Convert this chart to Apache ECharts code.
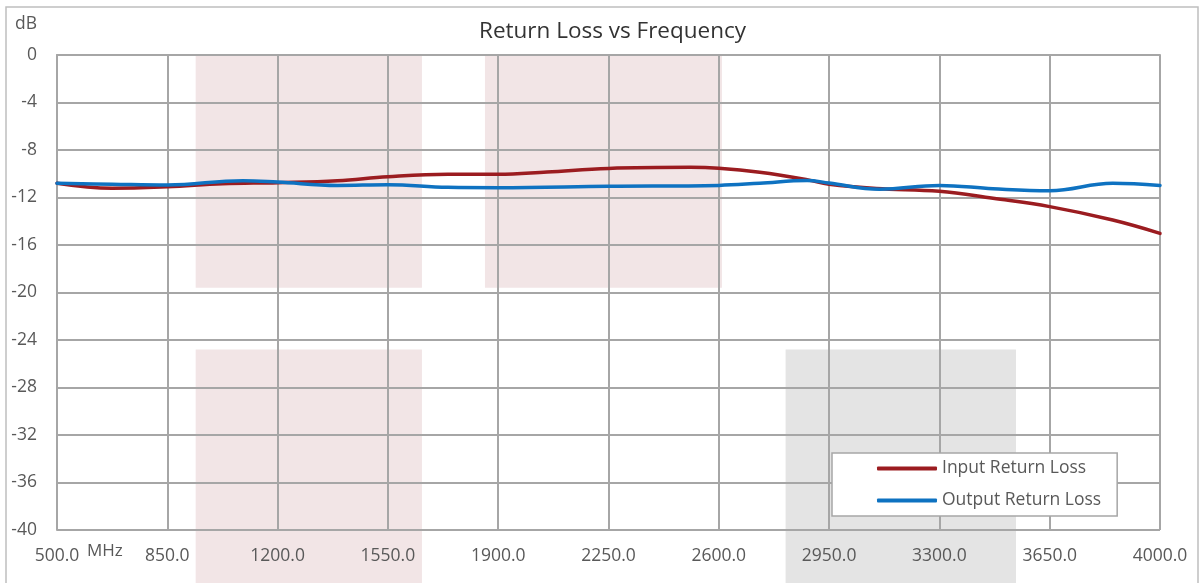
<!DOCTYPE html>
<html><head><meta charset="utf-8">
<script src="https://cdn.jsdelivr.net/npm/echarts@6/dist/echarts.min.js"></script>
<style>html,body{margin:0;padding:0;background:#fff}#c{width:1201px;height:583px}</style>
</head><body><div id="c"></div>
<script>
// ---- data (frequency in MHz, return loss in dB) ----
const FREQ_START = 500;
const FREQ_END = 4000;
const FREQ_STEP = 350;
const DB_MIN = -40;
const DB_MAX = 0;
const DB_STEP = 4;

const inputFreq = [500, 675, 850, 1025, 1200, 1390, 1550, 1740, 1900, 2055, 2250, 2510, 2600, 2730, 2880, 2950, 3100, 3300, 3470, 3650, 3850, 4000];
const inputRL   = [-10.8, -11.22, -11.1, -10.85, -10.75, -10.58, -10.25, -10.05, -10.05, -9.85, -9.55, -9.46, -9.54, -9.88, -10.5, -10.89, -11.25, -11.48, -12.07, -12.77, -13.9, -15.02];

const outputFreq = [500, 675, 850, 1090, 1200, 1390, 1550, 1740, 1900, 2250, 2600, 2730, 2880, 2950, 3110, 3300, 3470, 3650, 3850, 4000];
const outputRL   = [-10.8, -10.88, -10.95, -10.58, -10.7, -10.98, -10.92, -11.14, -11.17, -11.06, -10.98, -10.8, -10.57, -10.78, -11.3, -10.98, -11.26, -11.43, -10.8, -10.98];

const seriesNames = ['Input Return Loss', 'Output Return Loss'];

// shaded bands: frequency span and dB span
const bandFrom = [940, 1858, 940, 2812];
const bandTo   = [1658, 2610, 1658, 3543];
const bandTop  = [0, 0, -24.8, -24.8];
const bandBot  = [-19.6, -19.6, -45, -45];
const bandKind = ['pink', 'pink', 'pink', 'gray'];

// ---- chart ----
const BAND_COLORS = {pink: '#F2E5E6', gray: '#E4E4E4'};
const shift = f => f - FREQ_START;
const FONT = 'Open Sans';
const TEXT = '#595959';
const GRID = '#A6A6A6';

const chart = echarts.init(document.getElementById('c'), null, {renderer: 'canvas'});
const option = {
  animation: false,
  backgroundColor: '#fff',
  title: {
    text: 'Return Loss vs Frequency',
    left: 474, top: 15,
    textStyle: {fontFamily: FONT, fontSize: 22.5, fontWeight: 'normal', color: '#333333'}
  },
  graphic: [
    {type: 'rect', silent: true, z: -10, shape: {x: 6, y: 7, width: 1192, height: 640},
     style: {fill: 'none', stroke: '#BFBFBF', lineWidth: 1.5}},
    {type: 'text', silent: true, left: 15, top: 15,
     style: {text: 'dB', fontFamily: FONT, fontSize: 17.5, fill: TEXT}},
    {type: 'text', silent: true, left: 87, top: 543,
     style: {text: 'MHz', fontFamily: FONT, fontSize: 17, fill: TEXT}}
  ],
  grid: {left: 57, right: 41, top: 55, bottom: 53},
  legend: {
    data: seriesNames,
    orient: 'vertical',
    left: 832, top: 453,
    backgroundColor: '#fff',
    borderColor: GRID, borderWidth: 1.5, borderRadius: 0,
    padding: [5, 16, 5, 45],
    itemGap: 11,
    itemWidth: 60, itemHeight: 4,
    icon: 'roundRect',
    textStyle: {color: TEXT, fontFamily: FONT, fontSize: 17.5, lineHeight: 21}
  },
  xAxis: {
    type: 'value',
    min: shift(FREQ_START), max: shift(FREQ_END), interval: FREQ_STEP,
    axisLine: {show: true, lineStyle: {color: GRID, width: 2}},
    axisTick: {show: false},
    splitLine: {show: true, lineStyle: {color: GRID, width: 2}},
    axisLabel: {
      formatter: v => (v + FREQ_START).toFixed(1),
      color: TEXT, fontFamily: FONT, fontSize: 17.5, margin: 17
    }
  },
  yAxis: {
    type: 'value',
    min: DB_MIN, max: DB_MAX, interval: DB_STEP,
    axisLine: {show: true, lineStyle: {color: GRID, width: 2}},
    axisTick: {show: false},
    splitLine: {show: true, lineStyle: {color: GRID, width: 2}},
    axisLabel: {color: TEXT, fontFamily: FONT, fontSize: 17.5, margin: 20, align: 'right'}
  },
  series: [
    {
      type: 'custom', name: 'bands', silent: true, clip: false, z: -1,
      encode: {x: [0, 1], y: [2, 3]},
      data: bandFrom.map((f, i) => [shift(f), shift(bandTo[i]), bandTop[i], bandBot[i]]),
      renderItem: (params, api) => {
        const p1 = api.coord([api.value(0), api.value(2)]);
        const p2 = api.coord([api.value(1), api.value(3)]);
        return {type: 'rect', shape: {x: p1[0], y: p1[1], width: p2[0] - p1[0], height: p2[1] - p1[1]},
                style: {fill: BAND_COLORS[bandKind[params.dataIndex]]}};
      }
    },
    {
      type: 'line', name: seriesNames[0], smooth: 0.4, showSymbol: false, z: 3,
      color: '#9B1C20',
      lineStyle: {color: '#9B1C20', width: 3.5, cap: 'round'},
      data: inputFreq.map((f, i) => [shift(f), inputRL[i]])
    },
    {
      type: 'line', name: seriesNames[1], smooth: 0.4, showSymbol: false, z: 4,
      color: '#0E72C1',
      lineStyle: {color: '#0E72C1', width: 3.5, cap: 'round'},
      data: outputFreq.map((f, i) => [shift(f), outputRL[i]])
    }
  ]
};
chart.setOption(option);
</script>
</body></html>
